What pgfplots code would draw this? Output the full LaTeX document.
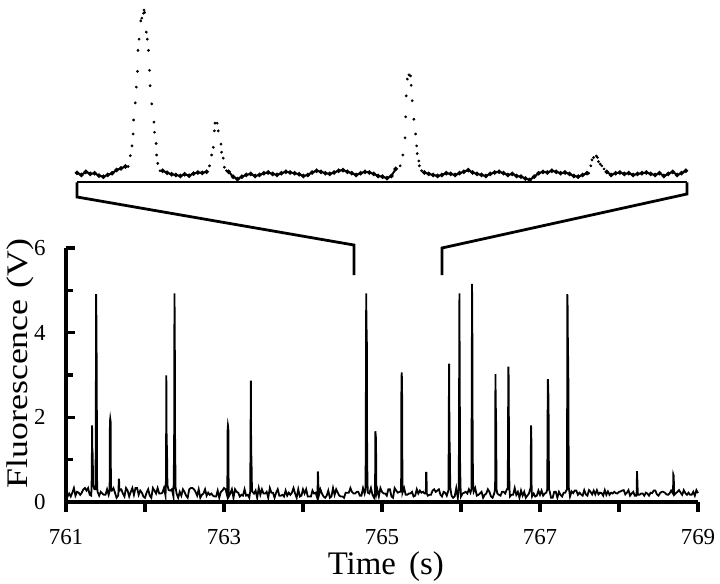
\documentclass[border=0pt]{standalone}
\usepackage{pgfplots}
\pgfplotsset{compat=1.18}
\usepackage{fontspec}
\setmainfont{Liberation Serif}
\begin{document}
\begin{tikzpicture}
\useasboundingbox (-66bp,-82bp) rectangle (654bp,502bp);
% ---------------- inset (zoomed window) ----------------
\begin{axis}[name=inset, at={(11bp,319.7bp)}, anchor=south west, scale only axis,
  width=610bp, height=175bp, xmin=764.65, xmax=765.76, ymin=0, ymax=5,
  hide axis, clip=false, unbounded coords=jump]
\addplot[black, line width=2pt, mark=*, mark size=1.1pt] coordinates {
(764.650,.27)(764.658,.21)(764.666,.30)(764.674,.24)(764.682,.26)(764.690,.19)(764.698,.16)(764.706,.21)(764.714,.26)(764.722,.35)(764.730,.40)(764.738,.45)
(764.742,nan)
(764.806,.33)(764.814,.27)(764.822,.23)(764.830,.21)(764.838,.18)(764.846,.23)(764.854,.19)(764.862,.25)(764.870,.28)(764.878,.27)(764.886,.30)
(764.889,nan)
(764.926,.30)(764.934,.16)(764.942,.09)(764.950,.16)(764.958,.21)(764.966,.24)(764.974,.18)(764.982,.21)(764.990,.26)(764.998,.28)
(765.006,.24)(765.014,.21)(765.022,.26)(765.030,.30)(765.038,.28)(765.046,.26)(765.054,.23)(765.062,.18)(765.070,.21)(765.078,.28)
(765.086,.33)(765.094,.30)(765.102,.26)(765.110,.24)(765.118,.28)(765.126,.33)(765.134,.35)(765.142,.30)(765.150,.26)(765.158,.21)
(765.166,.26)(765.174,.30)(765.182,.28)(765.190,.24)(765.198,.18)(765.206,.16)(765.214,.12)(765.222,.18)(765.230,.38)
(765.235,nan)
(765.282,.28)(765.290,.24)(765.298,.21)(765.306,.18)(765.314,.21)(765.322,.26)(765.330,.24)(765.338,.21)(765.346,.26)(765.354,.30)
(765.362,.35)(765.370,.28)(765.378,.24)(765.386,.21)(765.394,.18)(765.402,.24)(765.410,.28)(765.418,.30)(765.426,.26)(765.434,.21)
(765.442,.24)(765.450,.18)(765.458,.16)(765.466,.11)(765.474,.07)(765.482,.16)(765.490,.26)(765.498,.30)(765.506,.28)(765.514,.33)
(765.522,.30)(765.530,.26)(765.538,.28)(765.546,.24)(765.554,.18)(765.562,.16)(765.570,.21)(765.578,.26)
(765.580,nan)
(765.614,.30)(765.622,.21)(765.630,.26)(765.638,.28)(765.646,.24)(765.654,.26)(765.662,.21)(765.670,.24)(765.678,.26)(765.686,.28)
(765.694,.24)(765.702,.21)(765.710,.26)(765.718,.18)(765.726,.24)(765.734,.30)(765.742,.21)(765.750,.26)(765.758,.33)
};
\addplot[black, only marks, mark=*, mark size=1.2pt] coordinates {
(764.743,.45)(764.747,.76)(764.750,1.04)(764.752,1.38)(764.753,1.78)(764.756,2.27)(764.758,2.72)(764.760,3.17)(764.761,3.77)(764.763,4.09)
(764.766,4.61)(764.768,4.69)(764.771,4.83)(764.772,4.92)(764.773,4.85)(764.776,4.29)(764.778,4.09)(764.780,3.77)(764.782,3.20)(764.783,2.76)
(764.786,2.24)(764.790,1.72)(764.791,1.43)(764.794,1.11)(764.795,.78)(764.797,.54)(764.801,.33)
(764.891,.47)(764.895,.78)(764.898,1.00)(764.900,1.47)(764.901,1.69)(764.905,1.69)(764.907,1.47)(764.912,1.09)(764.913,.86)(764.916,.69)(764.918,.43)(764.922,.33)
(765.238,.47)(765.243,.78)(765.247,1.27)(765.248,1.87)(765.249,2.47)(765.251,2.95)(765.254,3.07)(765.257,3.04)(765.258,2.77)(765.260,2.33)
(765.263,1.80)(765.266,1.38)(765.268,1.04)(765.269,.82)(765.272,.61)(765.273,.47)(765.277,.33)
(765.581,.26)(765.585,.47)(765.587,.64)(765.590,.71)(765.595,.75)(765.597,.71)(765.599,.59)(765.602,.52)(765.605,.47)(765.609,.38)
};
\draw[line width=1.7pt] (rel axis cs:0,0) -- (rel axis cs:1,0);
\coordinate (IL) at (rel axis cs:0,0);
\coordinate (IR) at (rel axis cs:1,0);
\end{axis}
% ---------------- main trace ----------------
\begin{axis}[at={(0,0)}, anchor=south west, scale only axis,
  width=632bp, height=254bp, xmin=761, xmax=769, ymin=0, ymax=6,
  axis lines=left, clip=false,
  axis line style={-},
  xtick={761,762,...,769}, xticklabels={761,,763,,765,,767,,769},
  ytick={0,2,4,6}, yticklabels={0,2,4,6}, minor ytick={1,3,5},
  xtick align=outside, ytick align=inside,
  major tick length=9bp, minor tick length=6bp,
  tick label style={font=\fontsize{23}{23}\selectfont},
  xticklabel style={yshift=-15bp},
  yticklabel style={xshift=-17bp},
  xlabel={Time\hspace{0.4em}(s)},
  ylabel={\scalebox{1.2}[1]{Fluorescence\hspace{0.3em}(V)}},
  xlabel style={font=\fontsize{33}{33}\selectfont, at={(axis description cs:0.506,-0.255)}, anchor=center},
  ylabel style={font=\fontsize{30}{30}\selectfont, at={(axis description cs:-0.072,0.545)}, anchor=center},
]
\addplot[black, line width=1.8pt] coordinates {
(761.00,.17)(761.02,.13)(761.04,.20)(761.06,.13)(761.08,.22)(761.10,.33)(761.12,.15)(761.14,.24)(761.16,.22)(761.18,.17)
(761.20,.22)(761.22,.30)(761.24,.33)(761.26,.27)(761.28,.33)(761.30,.17)(761.32,.15)
(761.326,0.6)(761.330,1.81)(761.334,1.2)(761.338,1.15)(761.343,0.4)
(761.36,.30)
(761.374,0.3)(761.378,2.5)(761.381,4.91)(761.385,4.3)(761.389,3.0)(761.394,0.35)
(761.40,.24)(761.42,.15)(761.44,.24)(761.46,.20)(761.48,.17)(761.50,.17)(761.52,.30)(761.54,.17)
(761.552,0.25)(761.556,1.9)(761.560,1.97)(761.565,1.9)(761.569,0.3)
(761.58,.27)(761.60,.33)(761.62,.22)(761.64,.10)(761.66,.15)
(761.665,0.25)(761.668,0.55)(761.672,0.5)(761.676,0.25)
(761.68,.30)(761.70,.30)(761.72,.20)(761.74,.13)(761.76,.33)(761.78,.27)
(761.80,.13)(761.82,.24)(761.84,.33)(761.86,.17)(761.88,.33)(761.90,.33)(761.92,.17)(761.94,.27)(761.96,.22)(761.98,.13)
(762.00,.10)(762.02,.22)(762.04,.30)(762.06,.15)(762.08,.10)(762.10,.33)(762.12,.27)(762.14,.20)(762.16,.33)(762.18,.20)
(762.20,.20)(762.22,.22)(762.24,.33)(762.26,.15)
(762.262,0.3)(762.266,0.6)(762.270,2.99)(762.274,1.4)(762.278,1.3)(762.284,0.4)
(762.30,.28)(762.32,.27)(762.34,.30)(762.36,.13)
(762.362,0.3)(762.366,0.9)(762.369,1.6)(762.373,4.93)(762.377,4.2)(762.381,1.5)(762.387,0.35)
(762.40,.20)(762.42,.10)(762.44,.24)(762.46,.15)(762.48,.30)(762.50,.24)(762.52,.15)(762.54,.10)(762.56,.30)(762.58,.33)
(762.60,.33)(762.62,.30)(762.64,.24)(762.66,.15)(762.68,.30)(762.70,.10)(762.72,.17)(762.74,.20)(762.76,.30)(762.78,.15)
(762.80,.22)(762.82,.17)(762.84,.20)(762.86,.15)(762.88,.13)(762.90,.13)(762.92,.27)(762.94,.10)(762.96,.24)(762.98,.27)
(763.00,.33)(763.02,.30)(763.04,.15)
(763.042,0.25)(763.046,1.7)(763.050,1.81)(763.055,1.75)(763.059,0.3)
(763.06,.13)(763.08,.20)(763.10,.30)(763.12,.10)(763.14,.30)(763.16,.24)(763.18,.22)
(763.20,.13)(763.22,.17)(763.24,.15)(763.26,.30)(763.28,.15)(763.30,.17)(763.32,.10)
(763.332,0.25)(763.336,1.5)(763.340,2.87)(763.344,1.2)(763.348,1.0)(763.354,0.3)
(763.36,.24)(763.38,.20)
(763.40,.27)(763.42,.10)(763.44,.33)(763.46,.17)(763.48,.30)(763.50,.20)(763.52,.20)(763.54,.24)(763.56,.10)(763.58,.33)
(763.60,.22)(763.62,.22)(763.64,.10)(763.66,.22)(763.68,.30)(763.70,.15)(763.72,.15)(763.74,.17)(763.76,.13)(763.78,.27)
(763.80,.15)(763.82,.22)(763.84,.17)(763.86,.22)(763.88,.33)(763.90,.20)(763.92,.10)(763.94,.30)(763.96,.13)(763.98,.15)
(764.00,.30)(764.02,.20)(764.04,.30)(764.06,.13)(764.08,.13)(764.10,.13)(764.12,.27)(764.14,.20)(764.16,.22)(764.18,.10)
(764.184,0.2)(764.188,0.72)(764.192,0.6)(764.197,0.2)
(764.20,.15)(764.22,.30)(764.24,.20)(764.26,.13)(764.28,.10)(764.30,.15)(764.32,.27)(764.34,.10)(764.36,.13)(764.38,.33)
(764.40,.17)(764.42,.30)(764.44,.22)(764.46,.15)(764.48,.13)(764.50,.13)(764.52,.10)(764.54,.22)(764.56,.22)(764.58,.22)
(764.60,.33)(764.62,.24)(764.64,.20)(764.66,.20)(764.68,.24)(764.70,.24)(764.72,.15)(764.74,.15)(764.76,.33)(764.78,.20)
(764.792,0.3)(764.796,2.5)(764.800,4.93)(764.804,4.1)(764.808,4.0)(764.812,1.0)(764.818,0.35)
(764.82,.22)(764.84,.20)(764.86,.33)(764.88,.17)(764.90,.10)
(764.912,0.2)(764.916,1.67)(764.920,1.6)(764.924,1.5)(764.929,0.2)
(764.94,.30)(764.96,.13)(764.98,.33)
(765.00,.24)(765.02,.20)(765.04,.20)(765.06,.15)(765.08,.30)(765.10,.30)(765.12,.13)(765.14,.10)(765.16,.33)(765.18,.27)
(765.20,.22)(765.22,.24)(765.24,.24)
(765.242,0.3)(765.246,2.9)(765.250,3.06)(765.254,2.8)(765.259,0.35)
(765.26,.22)(765.28,.33)(765.30,.17)(765.32,.17)(765.34,.20)(765.36,.20)(765.38,.24)
(765.40,.13)(765.42,.15)(765.44,.30)(765.46,.20)(765.48,.27)(765.50,.22)(765.52,.24)(765.54,.20)
(765.555,0.2)(765.558,0.69)(765.563,0.69)(765.567,0.2)
(765.58,.15)
(765.60,.17)(765.62,.17)(765.64,.27)(765.66,.30)(765.68,.24)(765.70,.27)(765.72,.30)(765.74,.17)(765.76,.13)(765.78,.24)
(765.80,.22)(765.82,.15)(765.84,.27)
(765.842,0.3)(765.846,2.3)(765.850,3.27)(765.854,1.5)(765.858,1.3)(765.864,0.35)
(765.88,.15)(765.90,.10)(765.92,.13)(765.94,.33)(765.96,.10)
(765.972,0.3)(765.976,2.6)(765.980,4.93)(765.984,3.0)(765.988,1.0)(765.994,0.35)
(766.00,.13)(766.02,.20)(766.04,.22)(766.06,.24)(766.08,.20)(766.10,.30)(766.12,.22)
(766.132,0.3)(766.136,2.7)(766.140,5.15)(766.144,3.9)(766.148,1.2)(766.154,0.35)
(766.16,.24)(766.18,.33)
(766.20,.15)(766.22,.17)(766.24,.20)(766.26,.24)(766.28,.10)(766.30,.17)(766.32,.20)(766.34,.30)(766.36,.24)(766.38,.13)
(766.40,.10)(766.42,.20)
(766.432,0.3)(766.436,3.02)(766.440,2.3)(766.444,2.0)(766.450,0.3)
(766.46,.20)(766.48,.17)(766.50,.15)(766.52,.24)(766.54,.24)(766.56,.20)(766.58,.30)
(766.592,0.3)(766.596,2.0)(766.600,3.20)(766.604,2.9)(766.608,0.9)(766.614,0.3)
(766.62,.13)(766.64,.17)(766.66,.17)(766.68,.33)(766.70,.17)(766.72,.24)(766.74,.10)(766.76,.27)(766.78,.15)
(766.80,.24)(766.82,.10)(766.84,.15)(766.86,.20)(766.88,.33)
(766.882,0.3)(766.886,1.81)(766.890,1.7)(766.894,0.3)
(766.90,.13)(766.92,.20)(766.94,.13)(766.96,.15)(766.98,.27)
(767.00,.17)(767.02,.27)(767.04,.15)(767.06,.20)(767.08,.22)
(767.092,0.3)(767.096,2.0)(767.100,2.90)(767.104,2.7)(767.108,2.4)(767.114,0.3)
(767.12,.27)(767.14,.10)(767.16,.10)(767.18,.24)
(767.20,.24)(767.22,.10)(767.24,.24)(767.26,.17)(767.28,.13)(767.30,.22)(767.32,.22)(767.34,.30)
(767.342,0.3)(767.346,4.91)(767.350,4.6)(767.354,3.5)(767.358,3.4)(767.364,0.35)
(767.38,.13)
(767.40,.25)(767.42,.21)(767.44,.27)(767.46,.27)(767.48,.17)(767.50,.22)(767.52,.18)(767.54,.15)(767.56,.28)(767.58,.18)
(767.60,.15)(767.62,.28)(767.64,.24)(767.66,.18)(767.68,.27)(767.70,.18)(767.72,.28)(767.74,.18)(767.76,.22)(767.78,.21)
(767.80,.15)(767.82,.28)(767.84,.17)(767.86,.25)(767.88,.17)(767.90,.22)(767.92,.20)(767.94,.24)(767.96,.21)(767.98,.20)
(768.00,.24)(768.02,.25)(768.04,.27)(768.06,.28)(768.08,.18)(768.10,.22)(768.12,.28)(768.14,.15)(768.16,.20)(768.18,.24)
(768.20,.15)(768.22,.15)
(768.224,0.25)(768.228,0.73)(768.232,0.55)(768.237,0.25)
(768.24,.17)(768.26,.17)(768.28,.20)(768.30,.20)(768.32,.15)(768.34,.22)(768.36,.20)(768.38,.15)
(768.40,.22)(768.42,.21)(768.44,.27)(768.46,.27)(768.48,.18)(768.50,.15)(768.52,.21)(768.54,.24)(768.56,.24)(768.58,.22)
(768.60,.18)(768.62,.17)(768.64,.20)(768.66,.27)(768.68,.21)
(768.684,0.25)(768.688,0.65)(768.693,0.62)(768.697,0.25)
(768.70,.17)(768.72,.21)(768.74,.24)(768.76,.28)(768.78,.22)
(768.80,.17)(768.82,.28)(768.84,.21)(768.86,.17)(768.88,.22)(768.90,.17)(768.92,.17)(768.94,.24)(768.96,.15)(768.98,.28)
(769.00,.21)
};
% thick axis lines and ticks drawn over pgfplots' own
\draw[line width=4pt, line cap=butt] (axis cs:761,6) -- (axis cs:761,0) -- (axis cs:769,0);
\draw[line width=3.2pt]
  (axis cs:761,0) -- ++(0pt,-10bp) (axis cs:762,0) -- ++(0pt,-10bp) (axis cs:763,0) -- ++(0pt,-10bp)
  (axis cs:764,0) -- ++(0pt,-10bp) (axis cs:765,0) -- ++(0pt,-10bp) (axis cs:766,0) -- ++(0pt,-10bp)
  (axis cs:767,0) -- ++(0pt,-10bp) (axis cs:768,0) -- ++(0pt,-10bp) (axis cs:769,0) -- ++(0pt,-10bp);
\draw[line width=3.2pt]
  (axis cs:761,1) -- ++(7bp,0pt) (axis cs:761,2) -- ++(9bp,0pt) (axis cs:761,3) -- ++(7bp,0pt)
  (axis cs:761,4) -- ++(9bp,0pt) (axis cs:761,5) -- ++(7bp,0pt) (axis cs:761,6) -- ++(9bp,0pt);
\draw[line width=2.8pt] (IL) -- (axis cs:761.139,7.205) -- (axis cs:764.646,6.07) -- (axis cs:764.646,5.36);
\draw[line width=2.8pt] (IR) -- (axis cs:768.861,7.276) -- (axis cs:765.759,6.0) -- (axis cs:765.759,5.36);
\end{axis}
\end{tikzpicture}
\end{document}
